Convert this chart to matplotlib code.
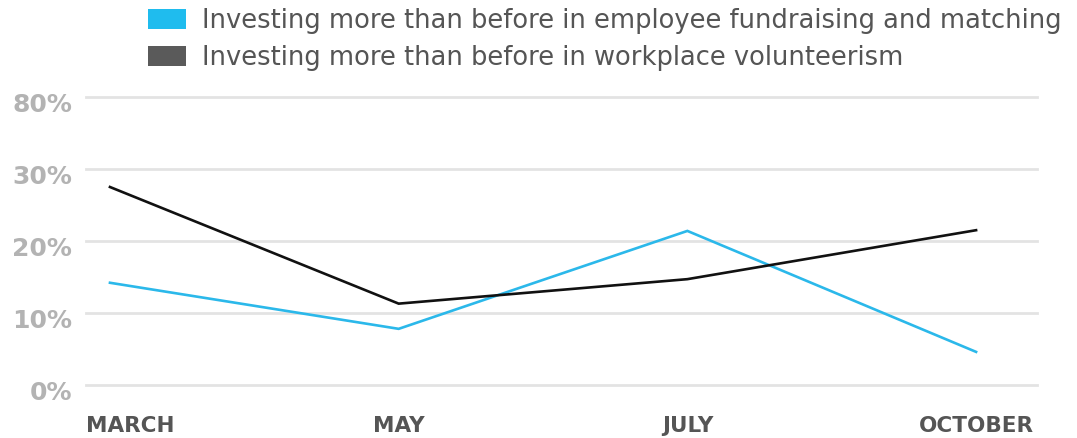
import matplotlib
matplotlib.use('Agg')
import matplotlib.pyplot as plt
import matplotlib.transforms as mtransforms
from matplotlib.patches import Patch

months = ['MARCH', 'MAY', 'JULY', 'OCTOBER']
fundraising = [14.2, 7.8, 21.4, 4.6]
volunteerism = [27.5, 11.3, 14.7, 21.5]
ytick_vals = [0, 10, 20, 30, 40]
ytick_labels = ['0%', '10%', '20%', '30%', '80%']
legend_labels = ['Investing more than before in employee fundraising and matching',
                 'Investing more than before in workplace volunteerism']

blue = '#2bb8ea'
dark = '#111111'

fig = plt.figure(figsize=(10.77, 4.38), dpi=100)
ax = fig.add_axes([86 / 1077, 53 / 438, (1037 - 86) / 1077, (385 - 97) / 438])

x = list(range(len(months)))
ax.plot(x, fundraising, color=blue, lw=1.9, solid_joinstyle='miter')
ax.plot(x, volunteerism, color=dark, lw=1.9, solid_joinstyle='miter')

ax.set_xlim(-0.083, 3.211)
ax.set_ylim(0, 40)
ax.set_yticks(ytick_vals)
ax.set_yticklabels(ytick_labels)
ax.set_xticks(x)
ax.set_xticklabels(months)
ax.grid(axis='y', color='#e3e3e3', lw=2)
ax.set_axisbelow(True)
for g in ax.get_ygridlines():
    g.set_clip_on(False)
for s in ax.spines.values():
    s.set_visible(False)
ax.tick_params(length=0)
ax.tick_params(axis='y', pad=10, labelsize=18, labelcolor='#b3b3b3')
ax.tick_params(axis='x', pad=22, labelsize=15.5, labelcolor='#555555')
for lab in ax.get_yticklabels():
    lab.set_fontweight('bold')
    lab.set_transform(lab.get_transform() + mtransforms.ScaledTranslation(0, -5 / 100, fig.dpi_scale_trans))
for lab in ax.get_xticklabels():
    lab.set_fontweight('bold')
first = ax.get_xticklabels()[0]
first.set_ha('left')
first.set_transform(first.get_transform() + mtransforms.ScaledTranslation(-24 / 100, 0, fig.dpi_scale_trans))

handles = [Patch(facecolor='#1fbcee', edgecolor='none'),
           Patch(facecolor='#5a5a5a', edgecolor='none')]
leg = fig.legend(handles, legend_labels, loc='upper left',
                 bbox_to_anchor=(148 / 1077, 1 - 8 / 438), frameon=False,
                 fontsize=18.5, handlelength=1.48, handleheight=0.78,
                 handletextpad=0.62, labelspacing=0.43, borderpad=0, borderaxespad=0)
for t in leg.get_texts():
    t.set_color('#555555')

fig.savefig('out.png', dpi=100)
